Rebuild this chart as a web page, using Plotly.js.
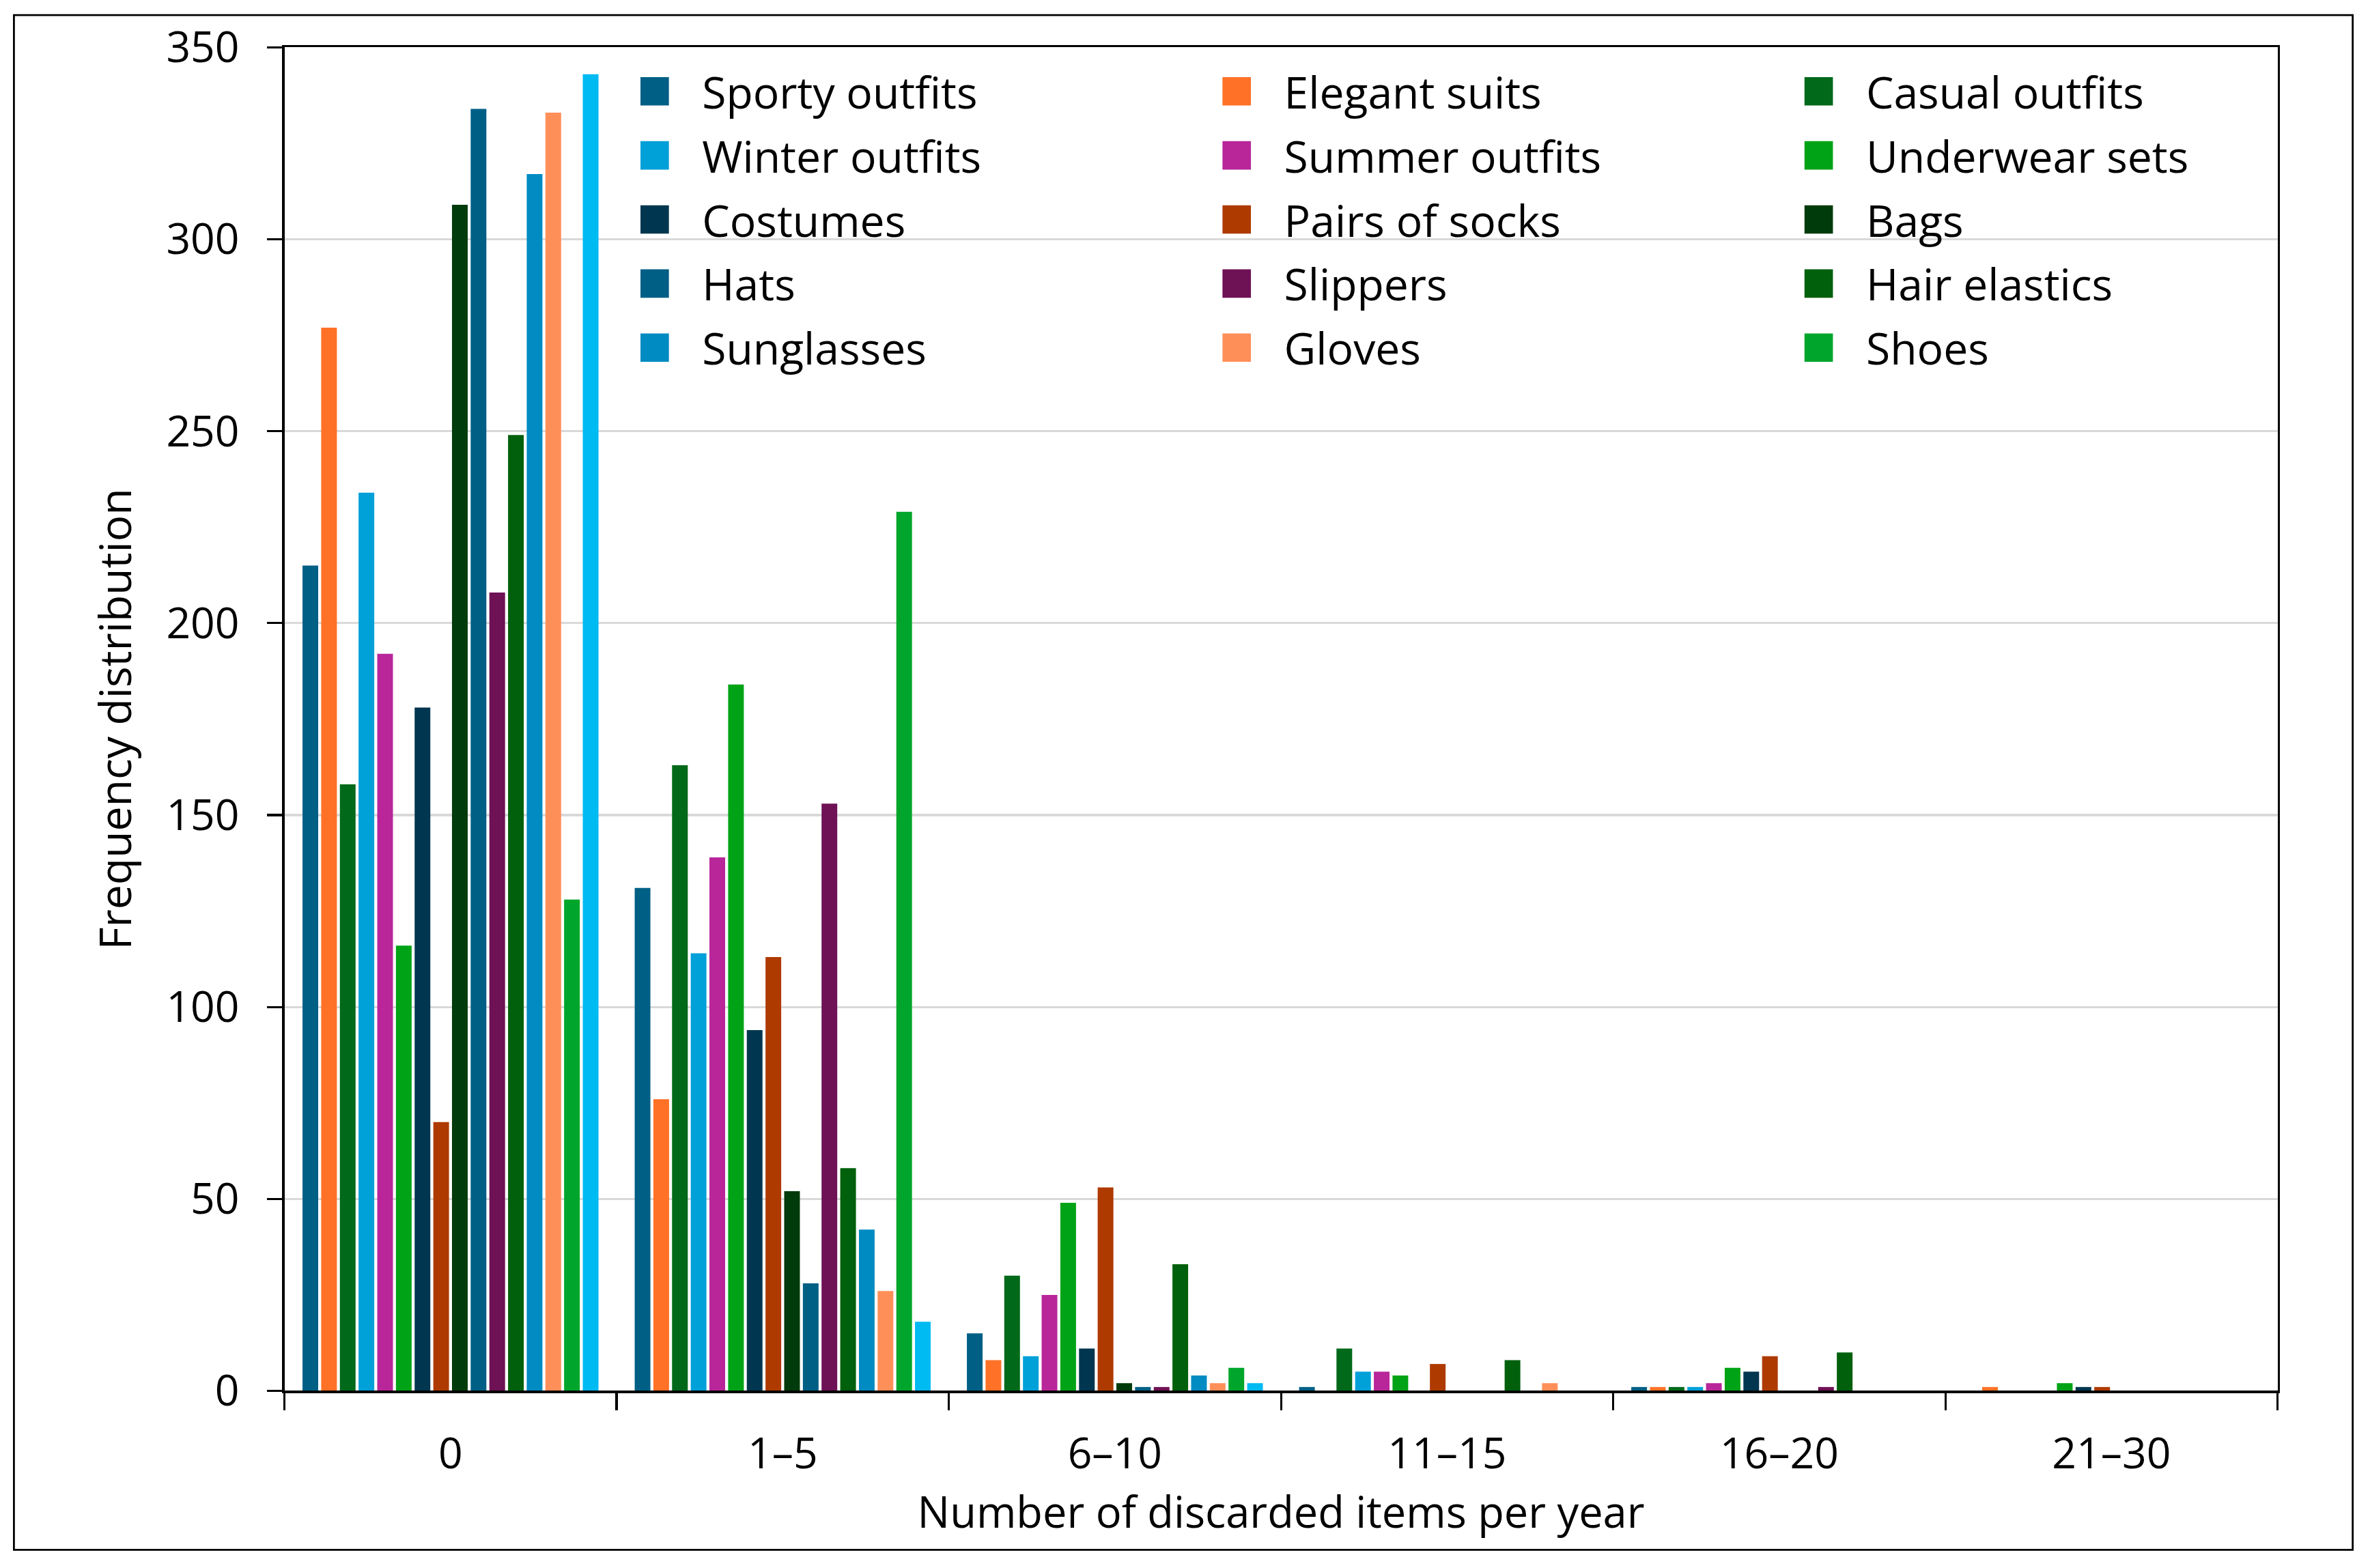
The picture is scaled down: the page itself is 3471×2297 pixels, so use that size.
<!DOCTYPE html>
<html>
<head>
<meta charset="utf-8">
<script src="https://cdn.plot.ly/plotly-3.0.1.min.js"></script>
<style>
  html, body { margin: 0; padding: 0; background: #ffffff; width: 3471px; height: 2297px; overflow: hidden; }
  #wrap { position: relative; width: 3471px; height: 2297px; overflow: hidden; }
  #chart { position: absolute; left: 0; top: 0; width: 1000px; height: 662px; transform: scale(3.471); transform-origin: 0 0; }
</style>
</head>
<body>
<div id="wrap"><div id="chart"></div></div>
<script>
// ---- data ----
const categories = ['0', '1–5', '6–10', '11–15', '16–20', '21–30'];

const sportyOutfits   = [215, 131, 15, 1, 1, 0];
const elegantSuits    = [277, 76, 8, 0, 1, 1];
const casualOutfits   = [158, 163, 30, 11, 1, 0];
const winterOutfits   = [234, 114, 9, 5, 1, 0];
const summerOutfits   = [192, 139, 25, 5, 2, 0];
const underwearSets   = [116, 184, 49, 4, 6, 2];
const costumes        = [178, 94, 11, 0, 5, 1];
const pairsOfSocks    = [70, 113, 53, 7, 9, 1];
const bags            = [309, 52, 2, 0, 0, 0];
const hats            = [334, 28, 1, 0, 0, 0];
const slippers        = [208, 153, 1, 0, 1, 0];
const hairElastics    = [249, 58, 33, 8, 10, 0];
const sunglasses      = [317, 42, 4, 0, 0, 0];
const gloves          = [333, 26, 2, 2, 0, 0];
const shoes           = [128, 229, 6, 0, 0, 0];
const unlabeledSeries = [343, 18, 2, 0, 0, 0];

const seriesNames = ['Sporty outfits', 'Elegant suits', 'Casual outfits', 'Winter outfits',
  'Summer outfits', 'Underwear sets', 'Costumes', 'Pairs of socks', 'Bags', 'Hats',
  'Slippers', 'Hair elastics', 'Sunglasses', 'Gloves', 'Shoes', ''];
const seriesValues = [sportyOutfits, elegantSuits, casualOutfits, winterOutfits,
  summerOutfits, underwearSets, costumes, pairsOfSocks, bags, hats,
  slippers, hairElastics, sunglasses, gloves, shoes, unlabeledSeries];
const seriesColors = ['#005F85', '#FF7127', '#00691A', '#00A0D9',
  '#B8269A', '#00A316', '#00364F', '#AE3A00', '#003B0C', '#005F85',
  '#6E1155', '#00600B', '#008BC2', '#FF8F59', '#00A62B', '#00BAF2'];

const yTicks = [0, 50, 100, 150, 200, 250, 300, 350];
const legendColumns = ['legend', 'legend2', 'legend3'];

// ---- traces ----
const traces = seriesNames.map((name, i) => ({
  type: 'bar',
  name: name,
  x: categories,
  y: seriesValues[i],
  marker: { color: seriesColors[i], line: { width: 0 } },
  showlegend: name !== '',
  legend: legendColumns[i % 3],
  hoverinfo: 'skip'
}));

const FONT = 'Open Sans, Noto Sans, sans-serif';
const legendStyle = (x) => ({
  orientation: 'v',
  x: x, xanchor: 'left',
  y: 1.0, yanchor: 'top',
  bgcolor: 'rgba(0,0,0,0)',
  borderwidth: 0,
  font: { family: FONT, size: 18.5, color: '#000000' },
  traceorder: 'normal'
});

const layout = {
  width: 1000,
  height: 662,
  margin: { l: 120.4, r: 38.6, t: 19.9, b: 75.1, pad: 0 },
  paper_bgcolor: '#ffffff',
  plot_bgcolor: '#ffffff',
  font: { family: FONT, size: 18, color: '#000000' },
  barmode: 'group',
  bargap: 0.1,
  bargroupgap: 0.16,
  xaxis: {
    type: 'category',
    categoryarray: categories,
    showline: true, mirror: true, linecolor: '#000000', linewidth: 1.1,
    ticks: 'outside', tickson: 'boundaries', ticklen: 7, tickwidth: 0.9, tickcolor: '#000000',
    ticklabelstandoff: 10,
    showgrid: false, zeroline: false,
    tickfont: { family: FONT, size: 18, color: '#000000' },
    title: { text: 'Number of discarded items per year', standoff: 8,
             font: { family: FONT, size: 18.2, color: '#000000' } }
  },
  yaxis: {
    range: [0, 350], tickvals: yTicks, ticktext: yTicks.map(String),
    showline: true, mirror: true, linecolor: '#000000', linewidth: 1.1,
    ticks: 'outside', ticklen: 6.3, tickwidth: 0.9, tickcolor: '#000000',
    ticklabelstandoff: 8,
    showgrid: true, gridcolor: '#D9D9D9', gridwidth: 0.9,
    zeroline: false,
    tickfont: { family: FONT, size: 18, color: '#000000' },
    title: { text: 'Frequency distribution', standoff: 9,
             font: { family: FONT, size: 18.5, color: '#000000' } }
  },
  xaxis2: {
    overlaying: 'x', anchor: 'y', range: [-0.5, 5.5],
    tickvals: [-0.5, 0.5, 1.5, 2.5, 3.5, 4.5, 5.5],
    ticks: 'inside', ticklen: 7, tickwidth: 0.9, tickcolor: '#000000',
    showticklabels: false, showgrid: false, zeroline: false, showline: false, side: 'bottom'
  },
  yaxis2: {
    overlaying: 'y', anchor: 'x', range: [0, 350], tickvals: yTicks,
    ticks: 'inside', ticklen: 7, tickwidth: 0.9, tickcolor: '#000000',
    showticklabels: false, showgrid: false, zeroline: false, showline: false, side: 'left'
  },
  legend: legendStyle(0.162),
  legend2: legendStyle(0.454),
  legend3: legendStyle(0.746),
  shapes: [{
    type: 'rect', xref: 'paper', yref: 'paper',
    x0: -0.1357, x1: 1.0377, y0: -0.1183, y1: 1.024,
    line: { color: '#000000', width: 0.8 }, fillcolor: 'rgba(0,0,0,0)', layer: 'above'
  }]
};

Plotly.newPlot('chart', traces, layout, { displayModeBar: false, staticPlot: true });
</script>
</body>
</html>
